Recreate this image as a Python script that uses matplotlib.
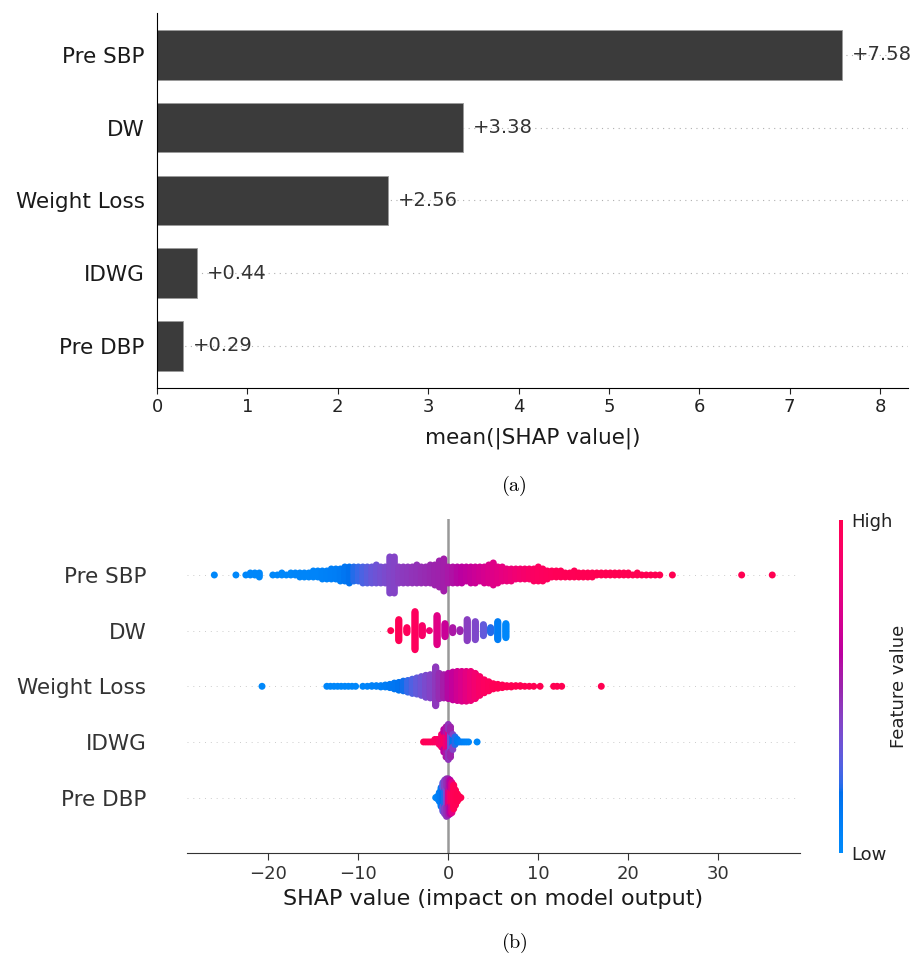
import numpy as np
import matplotlib
matplotlib.use("Agg")
import matplotlib.pyplot as plt
from matplotlib.colors import LinearSegmentedColormap
from matplotlib.cm import ScalarMappable

plt.rcParams['mathtext.fontset'] = 'cm'

features = ["Pre SBP", "DW", "Weight Loss", "IDWG", "Pre DBP"]
mean_abs = [7.58, 3.38, 2.56, 0.44, 0.29]

# beeswarm data: SHAP value of each stack, number of points in it, feature value (0=low, 1=high)
presbp_x = [-26.0, -23.6, -22.5, -22.0, -21.5, -21.0,
            -19.5, -19.0, -18.5, -18.0, -17.5, -17.0, -16.5, -16.0, -15.5, -15.0,
            -14.5, -14.0, -13.5, -13.0, -12.5, -12.0, -11.5, -11.0, -10.5, -10.0,
            -9.5, -9.0, -8.5, -8.0, -7.5, -7.0, -6.5, -6.0, -5.5, -5.0,
            -4.5, -4.0, -3.5, -3.0, -2.5, -2.0, -1.5, -1.0, -0.5, 0.0,
            0.5, 1.0, 1.5, 2.0, 2.5, 3.0, 3.5, 4.0, 4.5, 5.0,
            5.5, 6.0, 6.5, 7.0, 7.5, 8.0, 8.5, 9.0, 9.5, 10.0,
            10.5, 11.0, 11.5, 12.0, 12.5, 13.0, 13.5, 14.0, 14.5, 15.0,
            15.5, 16.0, 16.5, 17.0, 17.5, 18.0, 18.5, 19.0, 19.5, 20.0,
            20.5, 21.0, 21.5, 22.0, 22.5, 23.0, 23.5, 24.9, 32.6, 36.0]
presbp_n = [1, 1, 1, 2, 2, 3,
            1, 1, 2, 1, 2, 2, 3, 3, 3, 4,
            4, 5, 5, 6, 6, 7, 8, 9, 8, 8,
            9, 9, 9, 10, 9, 9, 19, 19, 9, 9,
            9, 9, 10, 9, 9, 10, 11, 14, 17, 9,
            9, 9, 9, 8, 9, 9, 8, 9, 10, 12,
            9, 8, 7, 7, 6, 6, 6, 6, 7, 8,
            7, 5, 4, 4, 4, 3, 3, 4, 3, 3,
            3, 3, 2, 2, 2, 2, 2, 2, 2, 2,
            1, 2, 1, 1, 1, 1, 1, 1, 1, 1]
presbp_c = [0.02, 0.02, 0.03, 0.03, 0.03, 0.03,
            0.03, 0.03, 0.03, 0.03, 0.03, 0.04, 0.04, 0.04, 0.04, 0.05,
            0.05, 0.06, 0.07, 0.08, 0.09, 0.11, 0.14, 0.17, 0.2, 0.22,
            0.25, 0.28, 0.31, 0.33, 0.35, 0.37, 0.39, 0.4, 0.42, 0.43,
            0.44, 0.45, 0.46, 0.47, 0.48, 0.49, 0.5, 0.51, 0.52, 0.54,
            0.56, 0.58, 0.6, 0.62, 0.64, 0.66, 0.68, 0.7, 0.72, 0.74,
            0.76, 0.78, 0.8, 0.82, 0.84, 0.86, 0.88, 0.9, 0.92, 0.93,
            0.94, 0.95, 0.96, 0.97, 0.97, 0.98, 0.98, 0.98, 0.99, 0.99,
            0.99, 0.99, 1.0, 1.0, 1.0, 1.0, 1.0, 1.0, 1.0, 1.0,
            1.0, 1.0, 1.0, 1.0, 1.0, 1.0, 1.0, 1.0, 1.0, 1.0]

dw_x = [-6.4, -5.5, -4.6, -3.7, -2.9, -2.1, -1.25, -0.37, 0.49, 1.3, 2.1, 3.0, 3.9, 4.7, 5.5, 6.4]
dw_n = [1, 22, 6, 39, 11, 1, 30, 14, 6, 3, 22, 19, 12, 6, 19, 15]
dw_c = [1.0, 0.98, 0.96, 0.95, 0.9, 0.85, 0.75, 0.65, 0.55, 0.5, 0.42, 0.38, 0.3, 0.2, 0.1, 0.03]

wl_x = [-20.7, -13.5, -13.1, -12.7, -12.3, -11.9, -11.5, -11.1, -10.7, -10.3,
        -9.5, -9.0, -8.5, -8.0, -7.5, -7.0, -6.5, -6.0, -5.5, -5.0,
        -4.5, -4.0, -3.5, -3.0, -2.5, -2.0, -1.4, -1.0, -0.5, 0.0,
        0.5, 1.0, 1.5, 2.0, 2.5, 3.0, 3.5, 4.0, 4.5, 5.0,
        5.5, 6.0, 6.5, 7.0, 7.5, 8.0, 8.5, 9.0, 9.5, 10.2,
        11.7, 12.1, 12.6, 17.0]
wl_n = [1, 1, 1, 1, 1, 1, 1, 1, 1, 1,
        1, 1, 2, 2, 3, 4, 6, 10, 13, 16,
        19, 23, 26, 30, 35, 37, 61, 40, 37, 40,
        44, 46, 47, 47, 46, 40, 30, 21, 15, 9,
        7, 5, 3, 3, 2, 2, 1, 1, 1, 1,
        1, 1, 1, 1]
wl_c = [0.02, 0.03, 0.03, 0.03, 0.03, 0.03, 0.03, 0.03, 0.03, 0.03,
        0.04, 0.05, 0.06, 0.07, 0.08, 0.1, 0.12, 0.14, 0.16, 0.19,
        0.22, 0.26, 0.3, 0.33, 0.37, 0.4, 0.44, 0.48, 0.53, 0.58,
        0.63, 0.68, 0.72, 0.77, 0.82, 0.86, 0.9, 0.93, 0.95, 0.97,
        0.98, 0.98, 0.99, 0.99, 1.0, 1.0, 1.0, 1.0, 1.0, 1.0,
        1.0, 1.0, 1.0, 1.0]

idwg_x = [-2.75, -2.5, -2.25, -2.0, -1.75, -1.5, -1.25, -1.0, -0.75, -0.5,
          -0.5, -0.25, -0.25, 0.0, 0.0, 0.25, 0.25, 0.5, 0.5, 0.75,
          1.0, 1.25, 1.5, 1.75, 2.0, 2.25, 3.2]
idwg_n = [1, 1, 1, 1, 1, 2, 2, 3, 6, 6,
          4, 7, 6, 8, 7, 7, 6, 4, 3, 4,
          2, 1, 1, 1, 1, 1, 1]
idwg_c = [0.98, 0.97, 0.97, 0.96, 0.95, 0.94, 0.93, 0.9, 0.88, 0.92,
          0.6, 0.85, 0.55, 0.75, 0.45, 0.3, 0.5, 0.15, 0.4, 0.2,
          0.12, 0.1, 0.08, 0.06, 0.05, 0.04, 0.02]

pdbp_x = [-1.4, -1.2, -1.0, -0.8, -0.6, -0.6, -0.4, -0.4, -0.2, -0.2,
          0.0, 0.0, 0.2, 0.2, 0.4, 0.4, 0.6, 0.8, 1.0, 1.2, 1.4]
pdbp_n = [1, 3, 8, 16, 14, 10, 15, 13, 16, 15,
          15, 15, 14, 14, 13, 12, 20, 13, 7, 3, 1]
pdbp_c = [0.03, 0.05, 0.08, 0.12, 0.15, 0.3, 0.2, 0.4, 0.35, 0.45,
          0.7, 0.5, 0.85, 0.6, 0.95, 0.75, 0.97, 0.98, 1.0, 1.0, 1.0]

swarm = [(presbp_x, presbp_n, presbp_c), (dw_x, dw_n, dw_c), (wl_x, wl_n, wl_c),
         (idwg_x, idwg_n, idwg_c), (pdbp_x, pdbp_n, pdbp_c)]


# shap-like red/blue colormap, built in Lch space
def lab_to_rgb(L, a, b):
    fy = (L + 16) / 116
    fx = fy + a / 500
    fz = fy - b / 200

    def finv(t):
        return t ** 3 if t ** 3 > 0.008856 else (t - 16 / 116) / 7.787
    X, Y, Z = 0.95047 * finv(fx), finv(fy), 1.08883 * finv(fz)
    rgb = [3.2406 * X - 1.5372 * Y - 0.4986 * Z,
           -0.9689 * X + 1.8758 * Y + 0.0415 * Z,
           0.0557 * X - 0.2040 * Y + 1.0570 * Z]
    out = []
    for c in rgb:
        c = 1.055 * c ** (1 / 2.4) - 0.055 if c > 0.0031308 else 12.92 * c
        out.append(min(max(c, 0.0), 1.0))
    return out


blue_lch = [54., 70., 4.6588]
red_lch = [54., 90., 0.35470565 + 2 * np.pi]
nsteps = 100
l_vals = list(np.linspace(blue_lch[0], 40., nsteps // 2)) + list(np.linspace(40., red_lch[0], nsteps // 2))
c_vals = np.linspace(blue_lch[1], red_lch[1], nsteps)
h_vals = np.linspace(blue_lch[2], red_lch[2], nsteps)
stops = []
for pos, l, c, h in zip(np.linspace(0, 1, nsteps), l_vals, c_vals, h_vals):
    stops.append((pos, lab_to_rgb(l, c * np.cos(h), c * np.sin(h))))
red_blue = LinearSegmentedColormap.from_list("red_blue", stops)


def swarm_offsets(xs, row_height=0.4):
    order = np.argsort(xs, kind="stable")
    ys = np.zeros(len(xs))
    layer = 0
    last = None
    for i in order:
        if xs[i] != last:
            layer = 0
        ys[i] = np.ceil(layer / 2) * ((layer % 2) * 2 - 1)
        layer += 1
        last = xs[i]
    return ys * 0.9 * (row_height / np.max(ys + 1))


fig = plt.figure(figsize=(9.13, 9.61), dpi=100)

# (a) bar chart
ax1 = fig.add_axes([0.172, 0.5963, 0.8226, 0.3902])
ypos = np.arange(len(features))[::-1]
for y, v in zip(ypos, mean_abs):
    ax1.axhline(y, color="#b0b0b0", lw=0.8, dashes=(1, 4), zorder=-1)
    ax1.text(v + 0.11, y, "+%.2f" % v, ha="left", va="center", fontsize=14, color="#333333")
ax1.barh(ypos, mean_abs, height=0.68, color="#3b3b3b", edgecolor="#9a9a9a", linewidth=0.6)
ax1.set_xlim(0, 8.31)
ax1.set_ylim(-0.577, 4.577)
ax1.set_yticks(ypos)
ax1.set_yticklabels(features, fontsize=15.5, color="#1a1a1a")
ax1.tick_params(axis="y", length=0, pad=9)
ax1.set_xticks(range(9))
ax1.tick_params(axis="x", labelsize=13, colors="#222222", length=4)
ax1.spines["top"].set_visible(False)
ax1.spines["right"].set_visible(False)
ax1.set_xlabel("mean(|SHAP value|)", fontsize=15.5, color="#1a1a1a", labelpad=8)
fig.text(0.563, 1 - 486 / 961, r"$\mathrm{(a)}$", ha="center", va="center", fontsize=14.5)

# (b) beeswarm
ax2 = fig.add_axes([0.2045, 0.1121, 0.6717, 0.3475])
rows = np.arange(len(features))[::-1]
for row, (sx, sn, sc) in zip(rows, swarm):
    xs = np.repeat(np.array(sx, dtype=float), sn)
    cs = np.repeat(np.array(sc, dtype=float), sn)
    ys = swarm_offsets(xs)
    ax2.axhline(row, color="#cccccc", lw=0.7, dashes=(1, 5), zorder=-1)
    ax2.scatter(xs, row + ys, c=cs, cmap=red_blue, vmin=0, vmax=1, s=25,
                linewidth=0, zorder=3, rasterized=True)
ax2.axvline(0, color="#999999", lw=1.8, zorder=-1)
ax2.set_xlim(-29.07, 39.08)
ax2.set_ylim(-1, len(features))
ax2.set_yticks(rows)
ax2.set_yticklabels(features, fontsize=15.5, color="#333333")
ax2.tick_params(axis="y", length=0, pad=29)
ax2.set_xticks([-20, -10, 0, 10, 20, 30])
ax2.tick_params(axis="x", labelsize=13, colors="#333333", length=5)
for side in ["top", "right", "left"]:
    ax2.spines[side].set_visible(False)
ax2.spines["bottom"].set_color("#333333")
ax2.set_xlabel("SHAP value (impact on model output)", fontsize=16, color="#1a1a1a", labelpad=4)

cax = fig.add_axes([839 / 913, 1 - 853 / 961, 4 / 913, 333 / 961])
sm = ScalarMappable(cmap=red_blue)
sm.set_array([0, 1])
cb = fig.colorbar(sm, cax=cax, ticks=[0, 1])
cb.set_ticklabels(["Low", "High"])
cb.ax.tick_params(labelsize=13, length=0, colors="#222222", pad=6)
cb.outline.set_visible(False)
cb.set_label("Feature value", fontsize=13, color="#222222", labelpad=-2)

fig.text(0.564, 1 - 943 / 961, r"$\mathrm{(b)}$", ha="center", va="center", fontsize=14.5)

fig.savefig("out.png", dpi=100)
